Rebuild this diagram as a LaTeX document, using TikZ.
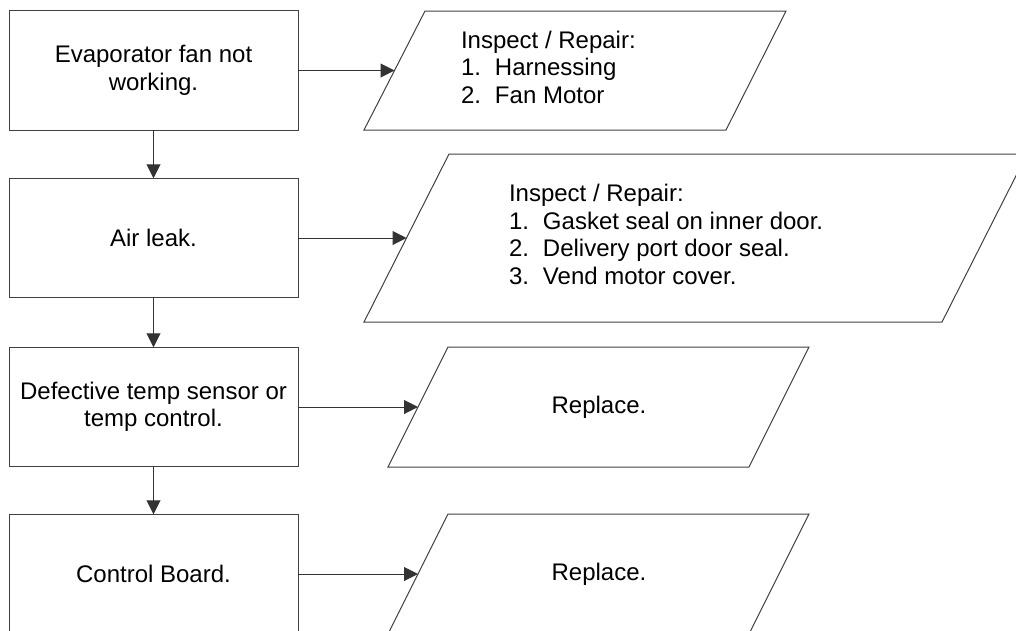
\documentclass[tikz,border=0pt]{standalone}
\usepackage{fontspec}
\setmainfont{Liberation Sans}
\usetikzlibrary{arrows.meta,calc}
\newcommand\numitem[2]{\makebox[34pt][l]{#1}#2}
\begin{document}
\begin{tikzpicture}[x=1pt,y=-1pt,line width=1pt,
  txt/.style={font=\fontsize{24}{27.5}\selectfont},
  box/.style={draw=black!75, minimum width=289pt, minimum height=119.5pt,
    inner sep=0pt, outer sep=0pt, align=center, txt},
  para/.style={draw=black!75, line join=miter},
  lbl/.style={inner sep=0pt, outer sep=0pt, align=left, txt},
  arr/.style={draw=black!80, -{Triangle[length=14pt,width=14pt]}}]
\useasboundingbox (0,0) rectangle (1016,630);
\clip (0,0) rectangle (1016,630);

% left boxes
\node[box] (b1) at (153.5,70.5) {Evaporator fan not\\working.};
\node[box] (b2) at (153.5,238) {Air leak.};
\node[box] (b3) at (153.5,407) {Defective temp sensor or\\temp control.};
\node[box] (b4) at (153.5,574) {Control Board.};

% parallelogram corners
\coordinate (p1bl) at (364,130); \coordinate (p1tl) at (425,11);
\coordinate (p1tr) at (786,11);  \coordinate (p1br) at (726,130);
\coordinate (p2bl) at (364,322); \coordinate (p2tl) at (449,154);
\coordinate (p2tr) at (1027,154); \coordinate (p2br) at (942,322);
\coordinate (p3bl) at (388,467); \coordinate (p3tl) at (448,347);
\coordinate (p3tr) at (809,347); \coordinate (p3br) at (749,467);
\coordinate (p4bl) at (388,634); \coordinate (p4tl) at (448,514);
\coordinate (p4tr) at (809,514); \coordinate (p4br) at (749,634);

\draw[para] (p1bl) -- (p1tl) -- (p1tr) -- (p1br) -- cycle;
\draw[para] (p2bl) -- (p2tl) -- (p2tr) -- (p2br) -- cycle;
\draw[para] (p3bl) -- (p3tl) -- (p3tr) -- (p3br) -- cycle;
\draw[para] (p4bl) -- (p4tl) -- (p4tr) -- (p4br) -- cycle;

\coordinate (p1in) at ($(p1bl)!0.5!(p1tl)$);
\coordinate (p2in) at ($(p2bl)!0.5!(p2tl)$);
\coordinate (p3in) at ($(p3bl)!0.5!(p3tl)$);
\coordinate (p4in) at ($(p4bl)!0.5!(p4tl)$);

% texts in parallelograms
\node[lbl, anchor=north west] (t1) at (461,31)
  {Inspect / Repair:\\\numitem{1.}{Harnessing}\\\numitem{2.}{Fan Motor}};
\node[lbl, anchor=north west] (t2) at (509,184.5)
  {Inspect / Repair:\\\numitem{1.}{Gasket seal on inner door.}\\\numitem{2.}{Delivery port door seal.}\\\numitem{3.}{Vend motor cover.}};
\node[lbl] (t3) at (599,407) {Replace.};
\node[lbl] (t4) at (599,574) {Replace.};

% connectors
\draw[arr] (b1.east |- p1in) -- (p1in);
\draw[arr] (b2.east |- p2in) -- (p2in);
\draw[arr] (b3.east |- p3in) -- (p3in);
\draw[arr] (b4.east |- p4in) -- (p4in);
\draw[arr] (b1.south) -- (b2.north);
\draw[arr] (b2.south) -- (b3.north);
\draw[arr] (b3.south) -- (b4.north);
\end{tikzpicture}
\end{document}
